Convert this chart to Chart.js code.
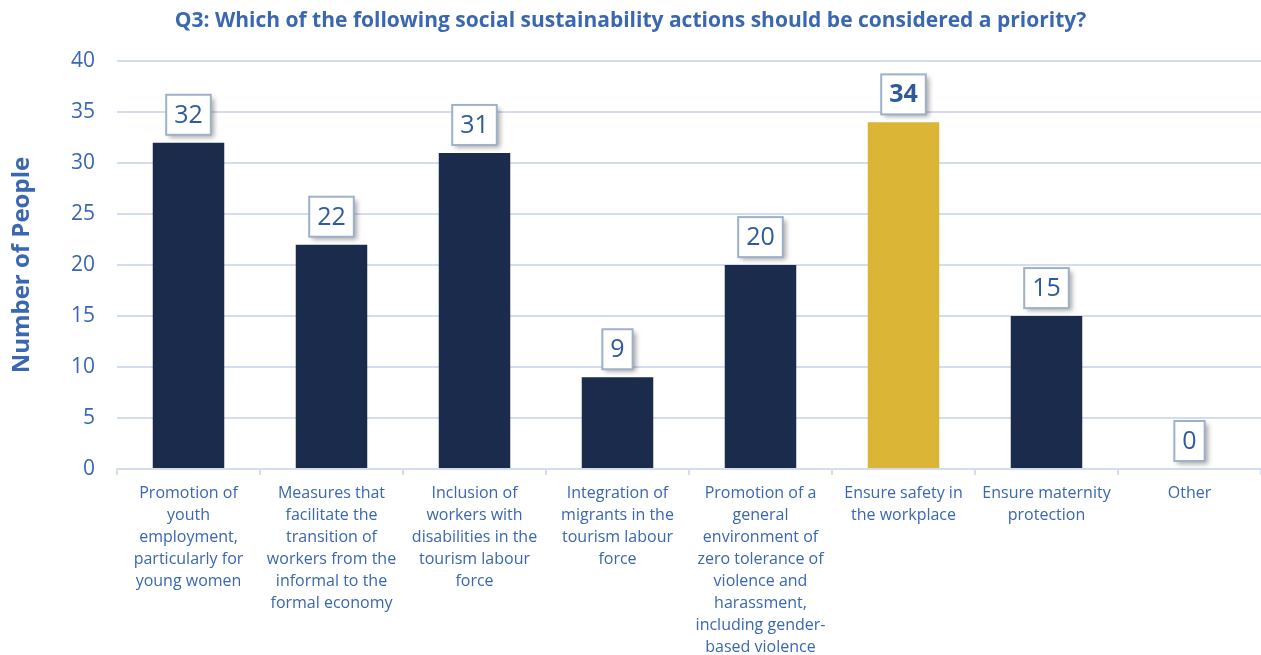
<!DOCTYPE html>
<html>
<head>
<meta charset="utf-8">
<script src="https://cdn.jsdelivr.net/npm/chart.js@4"></script>
<style>
  body { margin: 0; background: #fff; }
  #wrap { width: 1261px; height: 655px; }
</style>
</head>
<body>
<div id="wrap"><canvas id="q3Chart" width="1261" height="655"></canvas></div>
<script>
// categories (already wrapped the way the picture shows them)
const categories = [
  ['Promotion of', 'youth', 'employment,', 'particularly for', 'young women'],
  ['Measures that', 'facilitate the', 'transition of', 'workers from the', 'informal to the', 'formal economy'],
  ['Inclusion of', 'workers with', 'disabilities in the', 'tourism labour', 'force'],
  ['Integration of', 'migrants in the', 'tourism labour', 'force'],
  ['Promotion of a', 'general', 'environment of', 'zero tolerance of', 'violence and', 'harassment,', 'including gender-', 'based violence'],
  ['Ensure safety in', 'the workplace'],
  ['Ensure maternity', 'protection'],
  ['Other']
];
const people = [32, 22, 31, 9, 20, 34, 15, 0];
const highlightIndex = 5;
const yTicks = [0, 5, 10, 15, 20, 25, 30, 35, 40];

const navy = '#1b2b4b';
const gold = '#dbb536';
const blue = '#3a67b1';
const gridBlue = '#d3ddee';

// boxed value labels above each bar
const boxLabels = {
  id: 'boxLabels',
  afterDatasetsDraw(chart) {
    const ctx = chart.ctx;
    const meta = chart.getDatasetMeta(0);
    meta.data.forEach((bar, i) => {
      const txt = String(people[i]);
      ctx.save();
      ctx.font = (i === highlightIndex ? 'bold ' : '') + '25px "Open Sans"';
      const w = ctx.measureText(txt).width + 16;
      const h = 40;
      const x = bar.x - w / 2;
      const y = bar.y - 8 - h;
      ctx.shadowColor = 'rgba(0,0,0,0.35)';
      ctx.shadowBlur = 5;
      ctx.shadowOffsetX = 3;
      ctx.shadowOffsetY = 3;
      ctx.fillStyle = '#fff';
      ctx.fillRect(x, y, w, h);
      ctx.shadowColor = 'transparent';
      ctx.strokeStyle = '#9fb1c9';
      ctx.lineWidth = 2;
      ctx.strokeRect(x, y, w, h);
      ctx.fillStyle = '#2f5a9e';
      ctx.textAlign = 'center';
      ctx.textBaseline = 'middle';
      ctx.fillText(txt, bar.x, y + h / 2 + 1);
      ctx.restore();
    });
  }
};

new Chart(document.getElementById('q3Chart'), {
  type: 'bar',
  data: {
    labels: categories,
    datasets: [{
      data: people,
      backgroundColor: people.map((v, i) => i === highlightIndex ? gold : navy),
      categoryPercentage: 1,
      barPercentage: 0.5
    }]
  },
  options: {
    responsive: false,
    animation: false,
    devicePixelRatio: 1,
    layout: { padding: { left: 0, right: 0, top: 0, bottom: 0 } },
    plugins: {
      legend: { display: false },
      tooltip: { enabled: false },
      title: {
        display: true,
        text: 'Q3: Which of the following social sustainability actions should be considered a priority?',
        color: blue,
        font: { family: 'Open Sans', size: 21, weight: 'bold' },
        padding: { top: 8, bottom: 28 }
      }
    },
    scales: {
      x: {
        grid: { drawOnChartArea: false, drawTicks: true, tickLength: 6, color: gridBlue, lineWidth: 2 },
        border: { color: gridBlue, width: 2 },
        ticks: {
          color: blue,
          font: { family: 'Open Sans', size: 16, lineHeight: 1.38 },
          maxRotation: 0,
          autoSkip: false,
          padding: 7
        },
        afterFit(scale) { scale.height = 186; }
      },
      y: {
        min: 0,
        max: 40,
        afterBuildTicks(scale) { scale.ticks = yTicks.map(v => ({ value: v })); },
        grid: { color: gridBlue, lineWidth: 2, drawTicks: false },
        border: { display: false },
        ticks: {
          color: blue,
          font: { family: 'Open Sans', size: 21 },
          padding: 22
        },
        title: {
          display: true,
          text: 'Number of People',
          color: blue,
          font: { family: 'Open Sans', size: 24, weight: 'bold' },
          padding: { top: 8, bottom: 0 }
        },
        afterFit(scale) { scale.width = 117; }
      }
    }
  },
  plugins: [boxLabels]
});
</script>
</body>
</html>
